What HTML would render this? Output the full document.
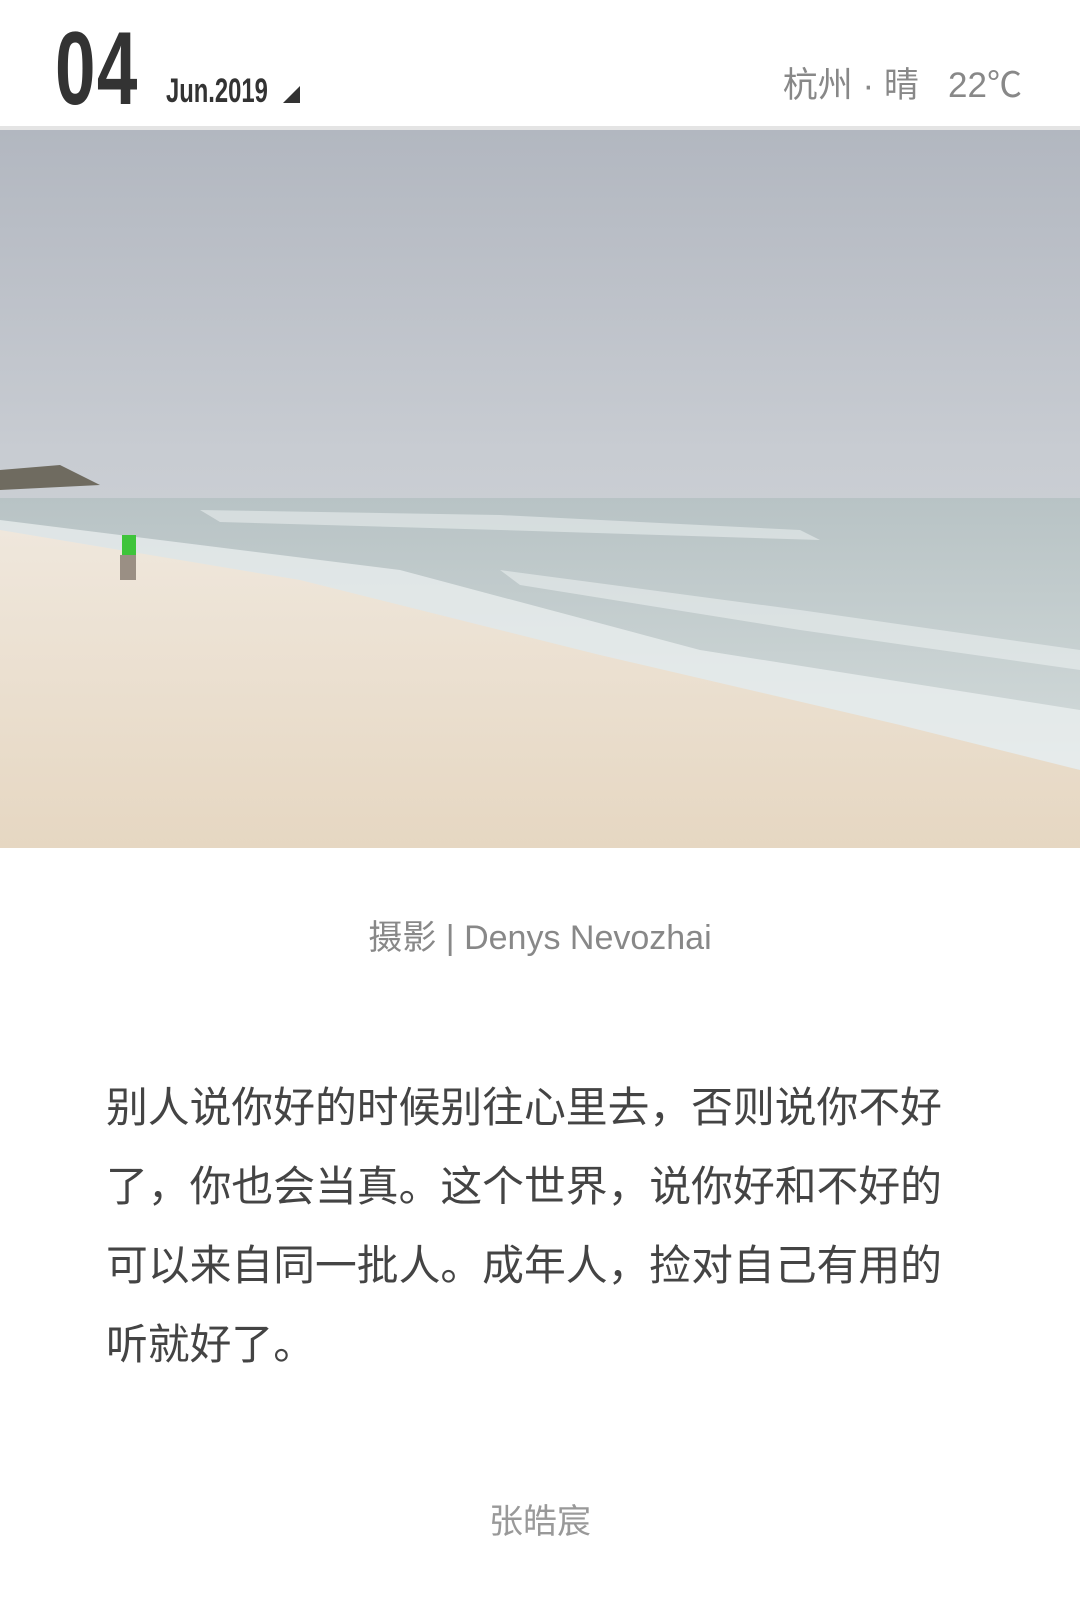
<!DOCTYPE html>
<html><head><meta charset="utf-8"><style>
body{margin:0;width:1080px;height:1605px;background:#fff;position:relative;overflow:hidden;font-family:"Liberation Sans","Noto Sans CJK SC",sans-serif}
.a{position:absolute}
</style></head><body>
<div class="a" style="left:55px;top:12px;font-size:104px;font-weight:bold;color:#333;transform:scaleX(0.7);transform-origin:left top;letter-spacing:2px;line-height:1.1">04</div>
<div class="a" style="left:166px;top:74px;font-size:34px;font-weight:bold;color:#333;transform:scaleX(0.7);transform-origin:left top;line-height:1">Jun.2019</div>
<svg class="a" style="left:282px;top:86px" width="20" height="18"><polygon points="18,0 18,17 1,17" fill="#333"/></svg>
<div class="a" style="right:58px;top:65px;font-size:35px;color:#888;line-height:1.2">杭州 · 晴&nbsp;&nbsp; 22℃</div>
<div class="a" style="left:0;top:126px;width:1080px;height:4px;background:#e4e4e4"></div>
<svg class="a" style="left:0;top:130px" width="1080" height="718">
<defs>
<linearGradient id="sky" x1="0" y1="0" x2="0" y2="1"><stop offset="0" stop-color="#b2b7c0"/><stop offset="0.45" stop-color="#c8ccd2"/><stop offset="1" stop-color="#d8dbde"/></linearGradient>
<linearGradient id="sand" x1="0" y1="0" x2="0" y2="1"><stop offset="0" stop-color="#efe7dc"/><stop offset="1" stop-color="#e6d7c2"/></linearGradient>
<linearGradient id="sea" x1="0" y1="0" x2="0" y2="1"><stop offset="0" stop-color="#b8c3c5"/><stop offset="1" stop-color="#dbe2e1"/></linearGradient>
</defs>
<rect width="1080" height="718" fill="url(#sky)"/>
<rect y="368" width="1080" height="350" fill="url(#sea)"/>
<polygon points="0,340 60,335 100,355 0,360" fill="#6f6b60"/>
<polygon points="200,380 500,385 800,400 820,410 500,400 220,392" fill="#f2f5f5" opacity="0.5"/>
<polygon points="500,440 800,480 1080,520 1080,540 800,500 520,455" fill="#f2f5f5" opacity="0.5"/>
<polygon points="0,390 400,440 700,520 1080,580 1080,640 750,570 400,480 0,405" fill="#eef2f2" opacity="0.7"/>
<polygon points="0,400 300,450 600,525 900,595 1080,640 1080,718 0,718" fill="url(#sand)"/>
<rect x="122" y="405" width="14" height="20" fill="#3ec43a"/>
<rect x="120" y="425" width="16" height="25" fill="#9a8f84"/>
</svg>
<div class="a" style="left:0;width:1080px;top:910px;text-align:center;font-size:34px;color:#888">摄影 | Denys Nevozhai</div>
<div class="a" style="left:106px;top:1068px;width:860px;font-size:41.8px;line-height:79px;color:#444">别人说你好的时候别往心里去，否则说你不好了，你也会当真。这个世界，说你好和不好的可以来自同一批人。成年人，捡对自己有用的听就好了。</div>
<div class="a" style="left:0;width:1080px;top:1494px;text-align:center;font-size:34px;color:#999">张皓宸</div>
</body></html>
